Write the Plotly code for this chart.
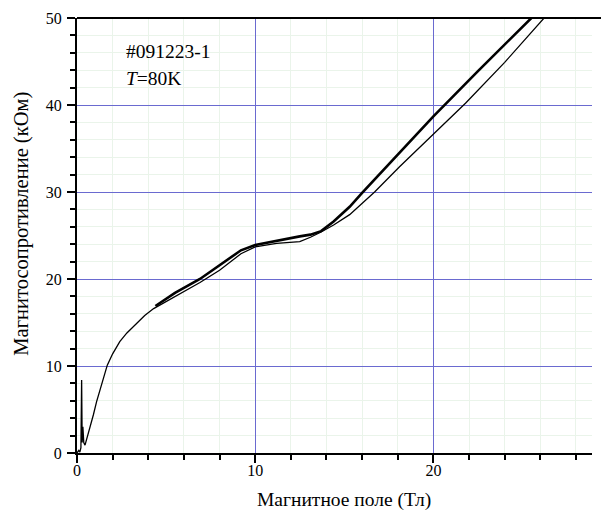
import plotly.graph_objects as go

# Thin branch (full sweep from zero field)
thin_x = [0, 0.1, 0.16, 0.22, 0.26, 0.29, 0.33, 0.38, 0.45, 0.55, 0.7, 0.92, 1.1, 1.3, 1.5, 1.7,
          2.0, 2.4, 2.8, 3.35, 3.8, 4.3, 5.0, 6.0, 6.9, 8.0, 9.2, 10.0, 11.2, 12.5, 13.1, 13.7,
          14.4, 15.3, 16.7, 18.1, 20.0, 21.8, 24.0, 26.3]
thin_y = [0, 0.3, 0.1, 0.6, 8.4, 1.2, 3.0, 1.2, 0.9, 1.6, 2.9, 4.4, 5.9, 7.4, 8.8, 10.1,
          11.4, 12.8, 13.8, 14.9, 15.8, 16.6, 17.4, 18.6, 19.6, 21.0, 22.9, 23.7, 24.1, 24.3, 24.8, 25.4,
          26.2, 27.4, 30.0, 32.9, 36.7, 40.2, 44.9, 50.2]

# Thick branch (second sweep)
thick_x = [4.4, 5.5, 6.9, 8.0, 9.2, 10.0, 11.2, 12.5, 13.1, 13.7, 14.4, 15.3, 16.0, 18.1, 20.0, 22.5, 25.6]
thick_y = [16.9, 18.4, 20.0, 21.6, 23.3, 23.9, 24.4, 24.9, 25.1, 25.5, 26.6, 28.3, 29.9, 34.5, 38.7, 43.9, 50.2]

x_tickvals = [0, 10, 20]
y_tickvals = [0, 10, 20, 30, 40, 50]

x_title = "Магнитное поле (Тл)"
y_title = "Магнитосопротивление (кОм)"

serif = "Liberation Serif, Times New Roman, serif"

fig = go.Figure()
fig.add_trace(go.Scatter(x=thin_x, y=thin_y, mode="lines",
                         line=dict(color="black", width=1.3), showlegend=False))
fig.add_trace(go.Scatter(x=thick_x, y=thick_y, mode="lines",
                         line=dict(color="black", width=2.6), showlegend=False))

common = dict(ticks="outside", ticklen=8, tickwidth=1.5, tickcolor="black",
              showline=True, linecolor="black", linewidth=2,
              showgrid=True, gridcolor="#6a6ad0", gridwidth=1, zeroline=False,
              automargin=False,
              tickfont=dict(family=serif, size=16, color="black"),
              minor=dict(dtick=2, ticks="outside", ticklen=5, tickwidth=1.5, tickcolor="black",
                         showgrid=True, gridcolor="#eaf4ea", gridwidth=1))

fig.update_layout(
    width=601, height=510,
    margin=dict(l=69, r=17, t=10, b=65),
    plot_bgcolor="white", paper_bgcolor="white",
    font=dict(family=serif, size=16, color="black"),
    xaxis=dict(range=[0, 28.9], tickvals=x_tickvals, ticklabelstandoff=-6, **common),
    yaxis=dict(range=[0, 50], tickvals=y_tickvals, ticklabelstandoff=2, **common),
)

fig.add_shape(type="line", xref="paper", yref="paper", x0=0, x1=1.033, y0=1, y1=1,
              line=dict(color="black", width=2))

# Axis titles
fig.add_annotation(xref="paper", yref="paper", x=0.518, y=-0.108, xanchor="center", yanchor="middle",
                   text=x_title, showarrow=False, font=dict(family=serif, size=19.5))
fig.add_annotation(xref="paper", yref="paper", x=-0.107, y=0.527, xanchor="center", yanchor="middle",
                   text=y_title, textangle=-90, showarrow=False, font=dict(family=serif, size=20.5))

fig.add_annotation(xref="paper", yref="paper", x=0.092, y=0.922, xanchor="left", yanchor="middle",
                   text="#091223-1", showarrow=False, font=dict(family=serif, size=19.5))
fig.add_annotation(xref="paper", yref="paper", x=0.092, y=0.86, xanchor="left", yanchor="middle",
                   text="<i>T</i>=80K", showarrow=False, font=dict(family=serif, size=19.5))

fig.write_html("out.html")
